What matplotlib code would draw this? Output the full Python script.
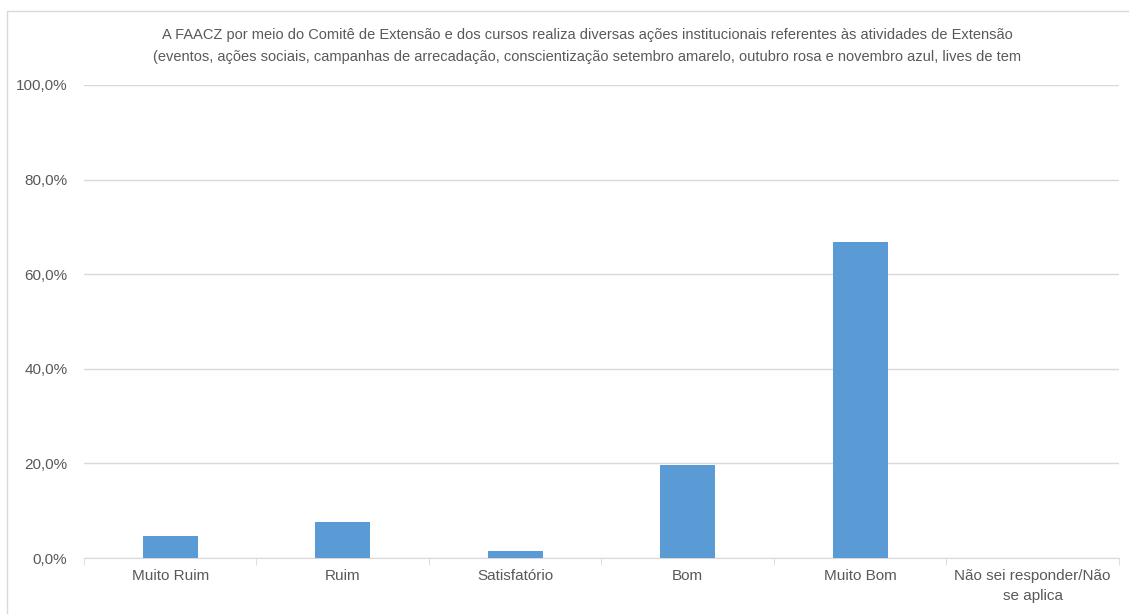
import matplotlib.pyplot as plt
from matplotlib.patches import Rectangle
from matplotlib.ticker import FuncFormatter

plt.rcParams['font.family'] = ['Liberation Sans Narrow', 'Liberation Sans', 'DejaVu Sans']

categorias = ["Muito Ruim", "Ruim", "Satisfatório", "Bom", "Muito Bom",
              "Não sei responder/Não\nse aplica"]
valores = [4.65, 7.6, 1.5, 19.7, 66.7, 0.0]

titulo = ("A FAACZ por meio do Comitê de Extensão e dos cursos realiza diversas ações "
          "institucionais referentes às atividades de Extensão\n"
          "(eventos, ações sociais, campanhas de arrecadação, conscientização setembro "
          "amarelo, outubro rosa e novembro azul, lives de tem")

cor_texto = "#595959"
cor_grade = "#D9D9D9"

fig = plt.figure(figsize=(11.29, 6.14), dpi=100)
ax = fig.add_axes([0.0744, 0.0912, 0.9166, 0.7704])

x = range(len(categorias))
ax.bar(x, valores, width=0.32, color="#5B9BD5", zorder=3)

ax.set_xlim(-0.5, len(categorias) - 0.5)
ax.set_ylim(0, 100)
ax.set_yticks([0, 20, 40, 60, 80, 100])
ax.yaxis.set_major_formatter(FuncFormatter(lambda v, p: f"{v:.1f}%".replace(".", ",")))
ax.grid(axis="y", color=cor_grade, linewidth=1, zorder=0)
ax.set_xticks(list(x))
ax.set_xticklabels(categorias, color=cor_texto, fontsize=11, linespacing=1.5)
ax.set_xticks([i - 0.5 for i in range(len(categorias) + 1)], minor=True)
ax.tick_params(axis="x", which="major", length=0, pad=8)
ax.tick_params(axis="x", which="minor", length=5, color=cor_grade)
ax.tick_params(axis="y", length=0, labelsize=11, labelcolor=cor_texto, pad=12)

for lado in ["top", "right", "left"]:
    ax.spines[lado].set_visible(False)
ax.spines["bottom"].set_color(cor_grade)

fig.text(0.52, 0.955, titulo, ha="center", va="top", fontsize=10.5,
         color=cor_texto, linespacing=1.75)

# moldura do gráfico
fig.patches.append(Rectangle((7 / 1129, -0.1), 1.2, 1.1 - 11 / 614,
                             transform=fig.transFigure, fill=False,
                             edgecolor=cor_grade, linewidth=1))

fig.savefig("out.png", dpi=100)
